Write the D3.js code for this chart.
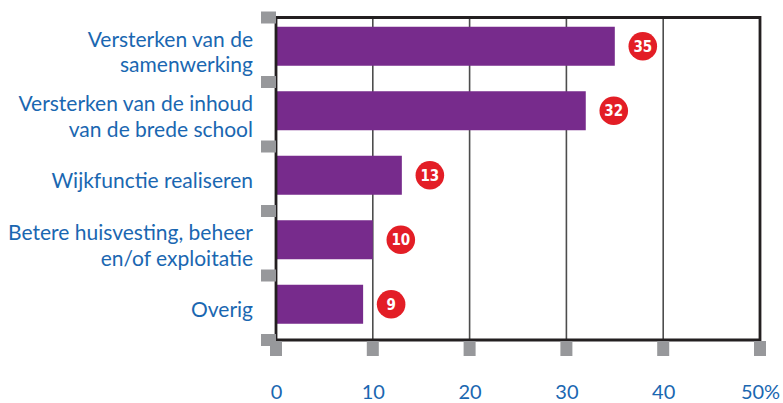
<!DOCTYPE html>
<html>
<head>
<meta charset='UTF-8' />
<style>
	body { margin: 0; background: #ffffff; }
	.lab { font-family: Lato, sans-serif; font-size: 21px; fill: #1a67b1; }
	.val { font-family: 'Liberation Sans Narrow', 'DejaVu Sans Condensed', sans-serif; font-weight: bold; font-size: 15px; fill: #ffffff; }
	.x.axis path, .x.axis line { display: none; }
	.x.axis text { font-family: Lato, sans-serif; font-size: 20px; fill: #1a67b1; }
</style>
</head>
<body>
<script src='https://d3js.org/d3.v7.min.js'></script>
<script>
'use strict';
const categories = [
	['Versterken van de', 'samenwerking'],
	['Versterken van de inhoud', 'van de brede school'],
	['Wijkfunctie realiseren'],
	['Betere huisvesting, beheer', 'en/of exploitatie'],
	['Overig']
];
const values = [35, 32, 13, 10, 9];
const valueLabels = ['35', '32', '13', '10', '9'];
const tickValues = [0, 10, 20, 30, 40, 50];
const tickLabels = ['0', '10', '20', '30', '40', '50%'];

const width = 783, height = 403;
const plotLeft = 276, plotRight = 760, plotTop = 17.5, plotBottom = 340;

const svg = d3.select('body').append('svg')
	.attr('width', width)
	.attr('height', height);

const x = d3.scaleLinear().domain([0, 50]).range([plotLeft, plotRight]);
const y = d3.scaleBand().domain(d3.range(categories.length)).range([plotTop, plotBottom]);
const barH = 39;

// grid lines
svg.selectAll('.grid')
	.data(tickValues.slice(1, -1))
	.enter().append('line')
	.attr('x1', d => x(d)).attr('x2', d => x(d))
	.attr('y1', plotTop).attr('y2', plotBottom)
	.attr('stroke', '#4d4d4d')
	.attr('stroke-width', 1.6);

// bars
svg.selectAll('.bar')
	.data(values)
	.enter().append('rect')
	.attr('x', x(0))
	.attr('y', (d, i) => y(i) + (y.bandwidth() - barH) / 2 - 3.5)
	.attr('width', d => x(d) - x(0))
	.attr('height', barH)
	.attr('fill', '#772b8c');

// frame
svg.append('path')
	.attr('d', 'M' + plotLeft + ',' + plotTop + 'H' + plotRight + 'V' + plotBottom + 'H' + plotLeft + 'Z')
	.attr('fill', 'none')
	.attr('stroke', '#231f20')
	.attr('stroke-width', 2.8);

// left square ticks at band boundaries
const bounds = d3.range(categories.length + 1).map(i => i < categories.length ? y(i) : plotBottom);
svg.selectAll('.ysq')
	.data(bounds)
	.enter().append('rect')
	.attr('x', plotLeft - 15)
	.attr('y', d => d - 6)
	.attr('width', 15)
	.attr('height', 12)
	.attr('fill', '#97989b');

// bottom square ticks
svg.selectAll('.xsq')
	.data(tickValues)
	.enter().append('rect')
	.attr('x', d => x(d) - 6)
	.attr('y', plotBottom + 1)
	.attr('width', 12)
	.attr('height', 15)
	.attr('fill', '#97989b');

// value badges
const badge = svg.selectAll('.badge')
	.data(values)
	.enter().append('g')
	.attr('transform', (d, i) => 'translate(' + (x(d) + 28) + ',' + (y(i) + y.bandwidth() / 2 - 3.5) + ')');
badge.append('circle')
	.attr('r', 14.3)
	.attr('fill', '#e31e26');
badge.append('text')
	.attr('class', 'val')
	.attr('text-anchor', 'middle')
	.attr('dy', '0.36em')
	.text((d, i) => valueLabels[i]);

// category labels
svg.selectAll('.lab')
	.data(categories)
	.enter().append('text')
	.attr('class', 'lab')
	.attr('text-anchor', 'end')
	.attr('transform', (d, i) => 'translate(253,' + (y(i) + y.bandwidth() / 2 + 2) + ')')
	.each(function(d) {
		const t = d3.select(this);
		const lh = 25.5;
		d.forEach((line, j) => {
			t.append('tspan')
				.attr('x', 0)
				.attr('y', (j - (d.length - 1) / 2) * lh)
				.attr('dy', '0.36em')
				.text(line);
		});
	});

// x axis labels
svg.append('g')
	.attr('class', 'x axis')
	.attr('transform', 'translate(0,' + plotBottom + ')')
	.call(d3.axisBottom(x).tickValues(tickValues).tickSize(0).tickPadding(45)
		.tickFormat((d, i) => tickLabels[i]));
</script>
</body>
</html>
